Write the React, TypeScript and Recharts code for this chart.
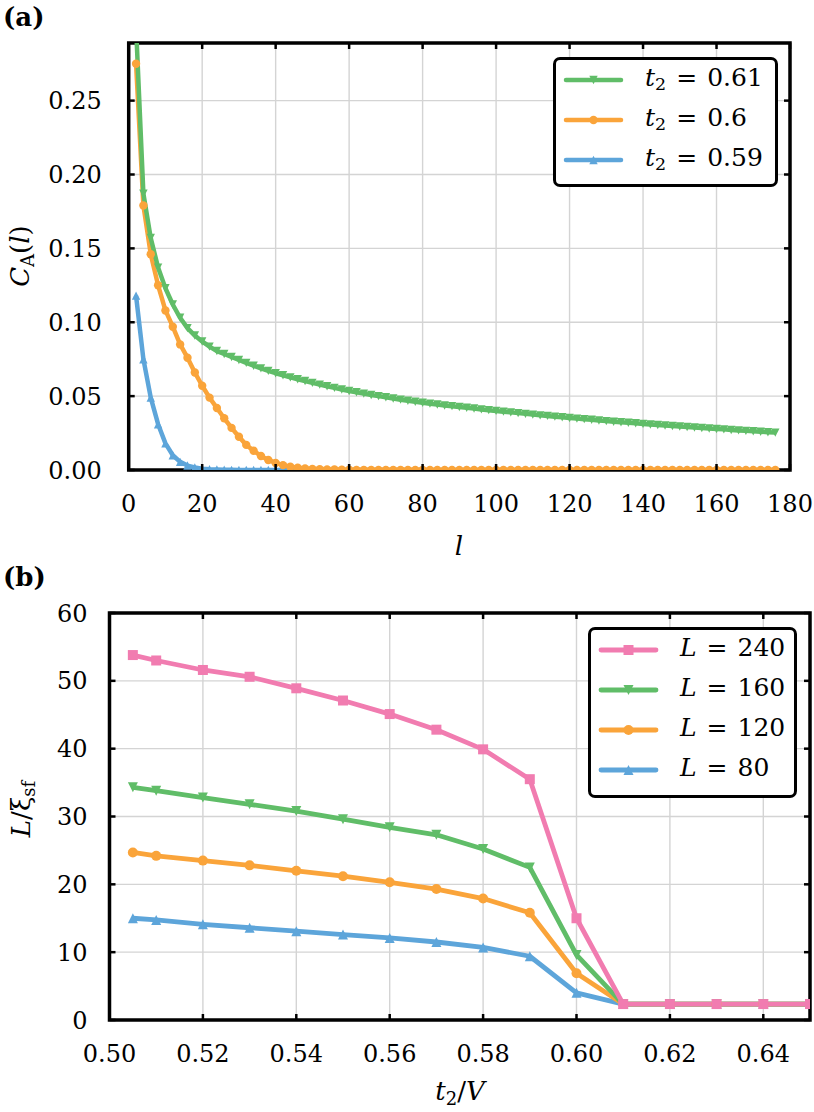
import React from 'react';
import { LineChart, Line, XAxis, YAxis, CartesianGrid, Legend, ReferenceArea } from 'recharts';

const FONT = 'DejaVu Serif, serif';
const GREEN = '#60BD68';
const ORANGE = '#FAA43A';
const BLUE = '#5DA5DA';
const PINK = '#F17CB0';
const GRID = '#d4d4d4';
const TICK_LEN = 6;
const FS = 24;

// ─── Panel (a): C_A(l) against l ─────────────────────────────────────────────

const lValues = [
  2, 4, 6, 8, 10, 12, 14, 16, 18, 20, 22, 24, 26, 28, 30, 32, 34, 36, 38, 40,
  42, 44, 46, 48, 50, 52, 54, 56, 58, 60, 62, 64, 66, 68, 70, 72, 74, 76, 78, 80,
  82, 84, 86, 88, 90, 92, 94, 96, 98, 100, 102, 104, 106, 108, 110, 112, 114, 116, 118, 120,
  122, 124, 126, 128, 130, 132, 134, 136, 138, 140, 142, 144, 146, 148, 150, 152, 154, 156, 158, 160,
  162, 164, 166, 168, 170, 172, 174, 176,
];

const caT061 = [
  0.300, 0.187, 0.157, 0.137, 0.123, 0.112, 0.103, 0.096, 0.091, 0.087,
  0.0835, 0.0805, 0.0785, 0.0765, 0.0745, 0.0725, 0.0706, 0.0688, 0.0671, 0.0655,
  0.0641, 0.0627, 0.0614, 0.0602, 0.0590, 0.0578, 0.0567, 0.0556, 0.0545, 0.0535,
  0.0526, 0.0517, 0.0508, 0.0500, 0.0492, 0.0484, 0.0476, 0.0469, 0.0462, 0.0455,
  0.0449, 0.0443, 0.0437, 0.0432, 0.0426, 0.0421, 0.0416, 0.0410, 0.0405, 0.0400,
  0.0395, 0.0390, 0.0385, 0.0380, 0.0375, 0.0370, 0.0366, 0.0361, 0.0357, 0.0352,
  0.0348, 0.0344, 0.0340, 0.0335, 0.0331, 0.0327, 0.0323, 0.0320, 0.0316, 0.0312,
  0.0308, 0.0305, 0.0301, 0.0298, 0.0294, 0.0291, 0.0288, 0.0284, 0.0281, 0.0278,
  0.0275, 0.0271, 0.0268, 0.0265, 0.0262, 0.0259, 0.0256, 0.0253,
];

const caT060 = [
  0.275, 0.179, 0.146, 0.125, 0.108, 0.097, 0.085, 0.076, 0.066, 0.057,
  0.049, 0.042, 0.035, 0.0285, 0.0225, 0.017, 0.013, 0.0095, 0.0068, 0.0048,
  0.0033, 0.0022, 0.0015, 0.001, 0.0007, 0.0005, 0.0004, 0.0003, 0.0002, 0.0002,
  0.0001, 0.0001, 0.0001, 0.0001, 0.0001, 0.0001, 0.0001, 0.0001, 0.0001, 0.0001,
  0, 0, 0, 0, 0, 0, 0, 0, 0, 0,
  0, 0, 0, 0, 0, 0, 0, 0, 0, 0,
  0, 0, 0, 0, 0, 0, 0, 0, 0, 0,
  0, 0, 0, 0, 0, 0, 0, 0, 0, 0,
  0, 0, 0, 0, 0, 0, 0, 0,
];

const caT059 = [
  0.118, 0.075, 0.049, 0.031, 0.018, 0.010, 0.0055, 0.003, 0.0017, 0.0009,
  0.0005, 0.0003, 0.0002, 0.0001, 0, 0, 0, 0, 0, 0,
  0, 0, 0, 0, 0, 0, 0, 0, 0, 0,
  0, 0, 0, 0, 0, 0, 0, 0, 0, 0,
  0, 0, 0, 0, 0, 0, 0, 0, 0, 0,
  0, 0, 0, 0, 0, 0, 0, 0, 0, 0,
  0, 0, 0, 0, 0, 0, 0, 0, 0, 0,
  0, 0, 0, 0, 0, 0, 0, 0, 0, 0,
  0, 0, 0, 0, 0, 0, 0, 0,
];

const aXTicks = [0, 20, 40, 60, 80, 100, 120, 140, 160, 180];
const aYTicks = [0, 0.05, 0.1, 0.15, 0.2, 0.25];
const aXDomain = [0, 180];
const aYDomain = [0, 0.289];

// ─── Panel (b): L/xi_sf against t2/V ─────────────────────────────────────────

const t2Values = [0.505, 0.51, 0.52, 0.53, 0.54, 0.55, 0.56, 0.57, 0.58, 0.59, 0.6, 0.61, 0.62, 0.63, 0.64, 0.65];
const xiL240 = [53.8, 53.0, 51.6, 50.6, 48.9, 47.1, 45.1, 42.8, 39.9, 35.5, 15.0, 2.35, 2.35, 2.35, 2.35, 2.35];
const xiL160 = [34.3, 33.8, 32.8, 31.8, 30.8, 29.6, 28.4, 27.3, 25.2, 22.5, 9.6, 2.35, 2.35, 2.35, 2.35, 2.35];
const xiL120 = [24.7, 24.2, 23.5, 22.8, 22.0, 21.2, 20.3, 19.3, 17.9, 15.8, 6.9, 2.35, 2.35, 2.35, 2.35, 2.35];
const xiL80 = [15.0, 14.75, 14.1, 13.6, 13.1, 12.6, 12.1, 11.5, 10.7, 9.4, 4.0, 2.35, 2.35, 2.35, 2.35, 2.35];

const bXTicks = [0.5, 0.52, 0.54, 0.56, 0.58, 0.6, 0.62, 0.64];
const bYTicks = [0, 10, 20, 30, 40, 50, 60];
const bXDomain = [0.5, 0.65];
const bYDomain = [0, 60];

// ─── Tables / series ─────────────────────────────────────────────────────────

const aData = lValues.map((l, i) => ({ l, t061: caT061[i], t060: caT060[i], t059: caT059[i] }));
const bData = t2Values.map((t, i) => ({ t, L240: xiL240[i], L160: xiL160[i], L120: xiL120[i], L80: xiL80[i] }));

// drawing order (last on top); legends list them reversed
const aSeries = [
  { key: 't059', label: '0.59', color: BLUE, shape: 'tri-up' },
  { key: 't060', label: '0.6', color: ORANGE, shape: 'circle' },
  { key: 't061', label: '0.61', color: GREEN, shape: 'tri-down' },
];
const bSeries = [
  { key: 'L80', label: '80', color: BLUE, shape: 'tri-up' },
  { key: 'L120', label: '120', color: ORANGE, shape: 'circle' },
  { key: 'L160', label: '160', color: GREEN, shape: 'tri-down' },
  { key: 'L240', label: '240', color: PINK, shape: 'square' },
];

// ─── Layout ──────────────────────────────────────────────────────────────────

// panel (a) svg sits at page y=0, panel (b) svg at page y=552 (they overlap a little)
const A = { w: 814, h: 566, left: 128.7, right: 790, top: 43, bottom: 470, xLabelY: 512, yLabelGap: 27 };
const B = { w: 814, h: 560, left: 109.5, right: 810, top: 61, bottom: 468, xLabelY: 510, yLabelGap: 22 };
const B_OFFSET = 552;
const AXIS_W = 60;
const AXIS_H = 40;

// ─── Markers ─────────────────────────────────────────────────────────────────

function Marker({ cx, cy, shape, r, color }: any) {
  if (shape === 'circle') return <circle cx={cx} cy={cy} r={r} fill={color} />;
  if (shape === 'square') return <rect x={cx - r} y={cy - r} width={2 * r} height={2 * r} fill={color} />;
  if (shape === 'tri-up')
    return <polygon points={`${cx},${cy - r} ${cx - r},${cy + r} ${cx + r},${cy + r}`} fill={color} />;
  return <polygon points={`${cx},${cy + r} ${cx - r},${cy - r} ${cx + r},${cy - r}`} fill={color} />;
}

function makeDot(shape: string, r: number, color: string) {
  return (p: any) => {
    if (p.cx == null || p.cy == null) return <g key={`e-${p.index}`} />;
    return (
      <g key={`m-${p.index}`}>
        <Marker cx={p.cx} cy={p.cy} shape={shape} r={r} color={color} />
      </g>
    );
  };
}

// ─── Ticks (inward on all four sides, labels left/bottom) ────────────────────

function makeXTick(box: any, fmt: (v: number) => string) {
  return (props: any) => {
    const { x, payload } = props;
    return (
      <g>
        <line x1={x} x2={x} y1={box.bottom} y2={box.bottom - TICK_LEN} stroke="#000" strokeWidth={2.5} />
        <line x1={x} x2={x} y1={box.top} y2={box.top + TICK_LEN} stroke="#000" strokeWidth={2.5} />
        <text x={x} y={box.xLabelY} textAnchor="middle" fontFamily={FONT} fontSize={FS} fill="#000">
          {fmt(payload.value)}
        </text>
      </g>
    );
  };
}

function makeYTick(box: any, fmt: (v: number) => string) {
  return (props: any) => {
    const { y, payload } = props;
    return (
      <g>
        <line x1={box.left} x2={box.left + TICK_LEN} y1={y} y2={y} stroke="#000" strokeWidth={2.5} />
        <line x1={box.right} x2={box.right - TICK_LEN} y1={y} y2={y} stroke="#000" strokeWidth={2.5} />
        <text x={box.left - box.yLabelGap} y={y} dy="0.36em" textAnchor="end" fontFamily={FONT} fontSize={FS} fill="#000">
          {fmt(payload.value)}
        </text>
      </g>
    );
  };
}

const ATickX = makeXTick(A, (v) => String(v));
const ATickY = makeYTick(A, (v) => v.toFixed(2));
const BTickX = makeXTick(B, (v) => v.toFixed(2));
const BTickY = makeYTick(B, (v) => String(v));

// ─── Axis titles ─────────────────────────────────────────────────────────────

function ATitleX() {
  return (
    <text x={459} y={555} textAnchor="middle" fontFamily={FONT} fontSize={FS + 2} fontStyle="italic" fill="#000">
      l
    </text>
  );
}

function ATitleY() {
  return (
    <g>
      <text x={3} y={26} fontFamily={FONT} fontSize={26} fontWeight="bold" fill="#000">(a)</text>
      <text transform="rotate(-90 29 256)" x={29} y={256} textAnchor="middle" fontFamily={FONT} fontSize={FS + 2} fill="#000">
        <tspan fontStyle="italic">C</tspan>
        <tspan fontSize={18} dy={5}>A</tspan>
        <tspan dy={-5}>(</tspan>
        <tspan fontStyle="italic">l</tspan>
        <tspan>)</tspan>
      </text>
    </g>
  );
}

function BTitleX() {
  return (
    <text x={460} y={548} textAnchor="middle" fontFamily={FONT} fontSize={FS + 2} fill="#000">
      <tspan fontStyle="italic">t</tspan>
      <tspan fontSize={18} dy={5}>2</tspan>
      <tspan dy={-5}>/</tspan>
      <tspan fontStyle="italic">V</tspan>
    </text>
  );
}

function BTitleY() {
  return (
    <g>
      <text x={3} y={34} fontFamily={FONT} fontSize={26} fontWeight="bold" fill="#000">(b)</text>
      <text transform="rotate(-90 30 257)" x={30} y={257} textAnchor="middle" fontFamily={FONT} fontSize={FS + 2} fill="#000">
        <tspan fontStyle="italic">L</tspan>
        <tspan>/ξ</tspan>
        <tspan fontSize={18} dy={5}>sf</tspan>
      </text>
    </g>
  );
}

// ─── Legend ──────────────────────────────────────────────────────────────────

function LegendBox({ items, width, height, name, r, lineWidth }: any) {
  const sampleLeft = 7;
  const sampleW = 61;
  const textLeft = 89;
  return (
    <div
      style={{
        position: 'relative',
        width,
        height,
        boxSizing: 'border-box',
        border: '3px solid #000',
        borderRadius: 7,
        background: '#fff',
      }}
    >
      {items.map((it: any, i: number) => {
        const cy = 20 + i * 40;
        return (
          <div key={it.key}>
            <svg width={sampleW} height={20} style={{ position: 'absolute', left: sampleLeft, top: cy - 10 }}>
              <line x1={3} x2={sampleW - 3} y1={10} y2={10} stroke={it.color} strokeWidth={lineWidth} strokeLinecap="round" />
              <Marker cx={sampleW / 2} cy={10} shape={it.shape} r={r} color={it.color} />
            </svg>
            <div
              style={{
                position: 'absolute',
                left: textLeft,
                top: cy - 22,
                height: 40,
                lineHeight: '40px',
                fontFamily: FONT,
                fontSize: FS + 1,
                whiteSpace: 'nowrap',
                color: '#000',
              }}
            >
              <i>{name}</i>
              {name === 't' && (
                <sub style={{ fontSize: '0.7em', verticalAlign: '-0.25em', lineHeight: 0 }}>2</sub>
              )}
              <span style={{ margin: '0 0.4em' }}>=</span>
              {it.label}
            </div>
          </div>
        );
      })}
    </div>
  );
}

// ─── App ─────────────────────────────────────────────────────────────────────

export default function App() {
  return (
    <div style={{ position: 'absolute', left: 0, top: 0, width: 814, height: 1112, background: '#fff' }}>
      <div style={{ position: 'absolute', left: 0, top: 0 }}>
        <LineChart
          width={A.w}
          height={A.h}
          data={aData}
          margin={{ top: A.top, right: A.w - A.right, left: A.left - AXIS_W, bottom: A.h - A.bottom - AXIS_H }}
        >
          <CartesianGrid stroke={GRID} strokeWidth={1.4} />
          <XAxis
            dataKey="l"
            type="number"
            domain={aXDomain}
            ticks={aXTicks}
            interval={0}
            allowDataOverflow
            tick={ATickX}
            tickLine={false}
            axisLine={false}
            height={AXIS_H}
            label={<ATitleX />}
          />
          <YAxis
            type="number"
            domain={aYDomain}
            ticks={aYTicks}
            interval={0}
            allowDataOverflow
            tick={ATickY}
            tickLine={false}
            axisLine={false}
            width={AXIS_W}
            label={<ATitleY />}
          />
          {aSeries.map((s) => (
            <Line
              key={s.key}
              dataKey={s.key}
              type="linear"
              stroke={s.color}
              strokeWidth={4.5}
              strokeLinejoin="round"
              dot={makeDot(s.shape, 4.2, s.color)}
              activeDot={false}
              isAnimationActive={false}
            />
          ))}
          <ReferenceArea x1={0} x2={180} y1={0} y2={0.289} fill="none" stroke="#000" strokeWidth={3.5} />
          <Legend
            layout="vertical"
            align="center"
            verticalAlign="middle"
            wrapperStyle={{ left: 553, top: 57, width: 225, height: 130 }}
            content={() => (
              <LegendBox items={[...aSeries].reverse()} width={225} height={130} name="t" r={4.2} lineWidth={4.5} />
            )}
          />
        </LineChart>
      </div>

      <div style={{ position: 'absolute', left: 0, top: B_OFFSET }}>
        <LineChart
          width={B.w}
          height={B.h}
          data={bData}
          margin={{ top: B.top, right: B.w - B.right, left: B.left - AXIS_W, bottom: B.h - B.bottom - AXIS_H }}
        >
          <CartesianGrid stroke={GRID} strokeWidth={1.4} />
          <XAxis
            dataKey="t"
            type="number"
            domain={bXDomain}
            ticks={bXTicks}
            interval={0}
            allowDataOverflow
            tick={BTickX}
            tickLine={false}
            axisLine={false}
            height={AXIS_H}
            label={<BTitleX />}
          />
          <YAxis
            type="number"
            domain={bYDomain}
            ticks={bYTicks}
            interval={0}
            allowDataOverflow
            tick={BTickY}
            tickLine={false}
            axisLine={false}
            width={AXIS_W}
            label={<BTitleY />}
          />
          {bSeries.map((s) => (
            <Line
              key={s.key}
              dataKey={s.key}
              type="linear"
              stroke={s.color}
              strokeWidth={4.8}
              strokeLinejoin="round"
              dot={makeDot(s.shape, 5, s.color)}
              activeDot={false}
              isAnimationActive={false}
            />
          ))}
          <ReferenceArea x1={0.5} x2={0.65} y1={0} y2={60} fill="none" stroke="#000" strokeWidth={3.5} />
          <Legend
            layout="vertical"
            align="center"
            verticalAlign="middle"
            wrapperStyle={{ left: 588, top: 627 - B_OFFSET, width: 209, height: 171 }}
            content={() => (
              <LegendBox items={[...bSeries].reverse()} width={209} height={171} name="L" r={5} lineWidth={4.8} />
            )}
          />
        </LineChart>
      </div>
    </div>
  );
}
